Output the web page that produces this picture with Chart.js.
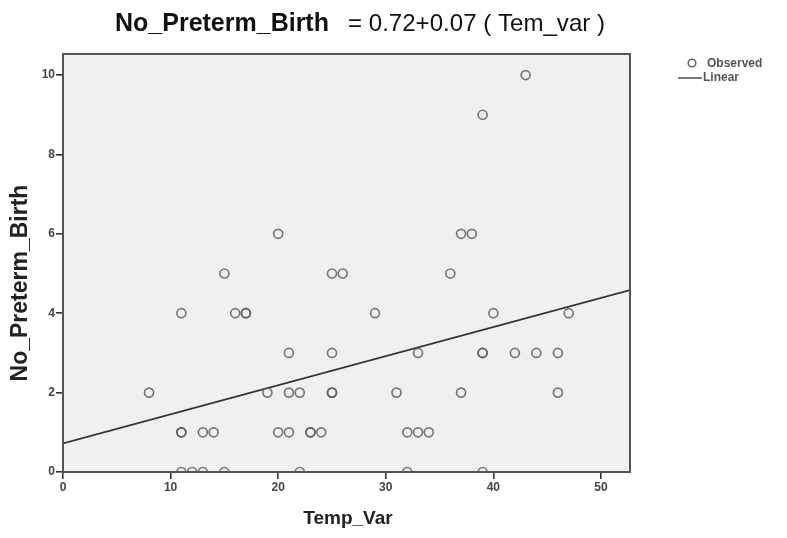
<!DOCTYPE html>
<html>
<head>
<meta charset="utf-8">
<script src="https://cdn.jsdelivr.net/npm/chart.js@4.4.1/dist/chart.umd.min.js"></script>
<style>
html,body{margin:0;padding:0;background:#fff;}
#wrap{width:787px;height:538px;position:relative;}
</style>
</head>
<body>
<div id="wrap"><canvas id="c" width="787" height="538"></canvas></div>
<script>
// Observed data (Temp_Var, No_Preterm_Birth)
const tempVar = [8, 11, 11, 11, 11, 12, 13, 13, 14, 15, 15, 16, 17, 17, 19, 20, 20, 21, 21, 21, 22, 22, 23, 23, 24, 25, 25, 25, 25, 26, 29, 31, 32, 32, 33, 33, 34, 36, 37, 37, 38, 39, 39, 39, 39, 40, 42, 43, 44, 46, 46, 47];
const pretermBirth = [2, 4, 1, 1, 0, 0, 1, 0, 1, 5, 0, 4, 4, 4, 2, 6, 1, 3, 2, 1, 2, 0, 1, 1, 1, 5, 3, 2, 2, 5, 4, 2, 1, 0, 3, 1, 1, 5, 6, 2, 6, 9, 3, 3, 0, 4, 3, 10, 3, 3, 2, 4];
// Linear fit: No_Preterm_Birth = 0.72 + 0.07 * Tem_var
const fitIntercept = 0.72;
const fitSlope = 0.0733;
const xTicks = [0, 10, 20, 30, 40, 50];
const yTicks = [0, 2, 4, 6, 8, 10];
const xMax = 52.7;
const yMax = 10.53;

const observed = tempVar.map((x, i) => ({x: x, y: pretermBirth[i]}));
const fitLine = [0, xMax].map(x => ({x: x, y: fitIntercept + fitSlope * x}));

const FONT = '"Liberation Sans", Arial, sans-serif';

const decor = {
  id: 'decor',
  beforeDatasetsDraw(chart) {
    const {ctx, chartArea: a} = chart;
    ctx.save();
    ctx.fillStyle = '#f0f0f0';
    ctx.fillRect(a.left, a.top, a.right - a.left, a.bottom - a.top);
    ctx.restore();
  },
  afterDraw(chart) {
    const {ctx, chartArea: a} = chart;
    ctx.save();
    ctx.strokeStyle = '#555';
    ctx.lineWidth = 2;
    ctx.strokeRect(a.left, a.top, a.right - a.left, a.bottom - a.top);
    // Title
    ctx.textBaseline = 'alphabetic';
    ctx.fillStyle = '#111';
    const t1 = 'No_Preterm_Birth';
    const t2 = '= 0.72+0.07 ( Tem_var )';
    ctx.font = 'bold 25px ' + FONT;
    ctx.fillText(t1, 115, 31);
    ctx.font = '24px ' + FONT;
    const w2 = ctx.measureText(t2).width;
    ctx.save();
    ctx.translate(348, 31);
    ctx.scale(257 / w2, 1);
    ctx.fillText(t2, 0, 0);
    ctx.restore();
    // Axis titles
    ctx.fillStyle = '#222';
    ctx.font = 'bold 19px ' + FONT;
    ctx.textAlign = 'center';
    ctx.textBaseline = 'alphabetic';
    ctx.fillText('Temp_Var', 348, 524);
    ctx.save();
    ctx.translate(21, 283);
    ctx.rotate(-Math.PI / 2);
    ctx.textBaseline = 'middle';
    ctx.font = 'bold 23px ' + FONT;
    ctx.fillText('No_Preterm_Birth', 0, 0);
    ctx.restore();
    // Legend
    ctx.textAlign = 'left';
    ctx.textBaseline = 'middle';
    ctx.font = 'bold 12px ' + FONT;
    ctx.fillStyle = '#555';
    ctx.strokeStyle = '#666';
    ctx.lineWidth = 1.6;
    ctx.beginPath();
    ctx.arc(692, 63, 3.8, 0, Math.PI * 2);
    ctx.stroke();
    ctx.fillText('Observed', 707, 64);
    ctx.strokeStyle = '#444';
    ctx.lineWidth = 1.4;
    ctx.beginPath();
    ctx.moveTo(678, 78);
    ctx.lineTo(702, 78);
    ctx.stroke();
    ctx.fillText('Linear', 703, 78);
    ctx.restore();
  }
};

new Chart(document.getElementById('c'), {
  type: 'scatter',
  data: {
    datasets: [
      {
        label: 'Observed',
        data: observed,
        pointStyle: 'circle',
        pointRadius: 4.5,
        pointBorderWidth: 1.7,
        pointBorderColor: 'rgba(90,90,90,0.8)',
        pointBackgroundColor: 'rgba(0,0,0,0)',
        showLine: false,
        clip: 0
      },
      {
        label: 'Linear',
        data: fitLine,
        showLine: true,
        borderColor: '#333',
        borderWidth: 1.8,
        pointRadius: 0,
        fill: false,
        clip: 0
      }
    ]
  },
  options: {
    responsive: false,
    animation: false,
    events: [],
    layout: {padding: {left: 0, top: 54, right: 157, bottom: 0}},
    plugins: {legend: {display: false}, tooltip: {enabled: false}, title: {display: false}},
    scales: {
      x: {
        type: 'linear',
        min: 0,
        max: xMax,
        afterFit(s) { s.height = 66; },
        afterBuildTicks(s) { s.ticks = xTicks.map(v => ({value: v})); },
        grid: {drawOnChartArea: false, drawTicks: true, tickLength: 7, color: '#333', lineWidth: 1.6},
        border: {display: false},
        ticks: {color: '#444', font: {size: 12, weight: 'bold', family: FONT}, padding: 1, maxRotation: 0}
      },
      y: {
        type: 'linear',
        min: 0,
        max: yMax,
        afterFit(s) { s.width = 63; },
        afterBuildTicks(s) { s.ticks = yTicks.map(v => ({value: v})); },
        grid: {drawOnChartArea: false, drawTicks: true, tickLength: 7, color: '#333', lineWidth: 1.6},
        border: {display: false},
        ticks: {color: '#444', font: {size: 12, weight: 'bold', family: FONT}, padding: 1}
      }
    }
  },
  plugins: [decor]
});
</script>
</body>
</html>
